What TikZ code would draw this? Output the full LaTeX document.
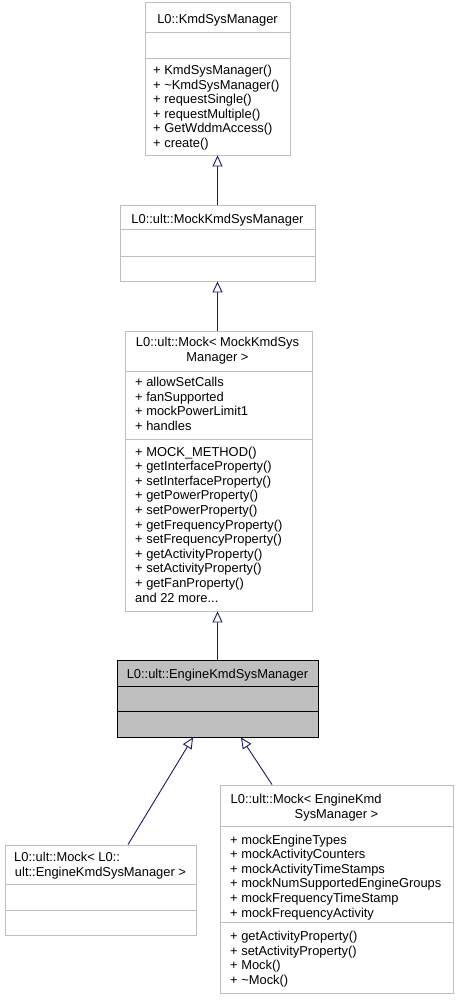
\documentclass[tikz,border=0pt]{standalone}
\usepackage{fontspec}
\setmainfont{Liberation Sans}
\usetikzlibrary{arrows.meta}
\definecolor{grey75}{HTML}{BFBFBF}
\definecolor{edgeblue}{HTML}{191970}
\tikzset{
  cls/.style={draw=grey75, fill=white, line width=0.9pt, inner sep=0pt, rectangle},
  clshl/.style={draw=black, fill=grey75, line width=0.9pt, inner sep=0pt, rectangle},
  sepline/.style={draw=grey75, line width=0.9pt},
  seplinehl/.style={draw=black, line width=0.9pt},
  txt/.style={inner sep=0pt, font=\fontsize{12.9}{14.6}\selectfont, align=left, anchor=north west, yshift=9pt, execute at begin node={\strut}},
  ttl/.style={inner sep=0pt, font=\fontsize{12.9}{14.6}\selectfont, align=center, anchor=north, yshift=9pt, execute at begin node={\strut}},
  inh/.style={draw=edgeblue, line width=0.9pt, -{Triangle[open, length=11pt, width=10pt, fill=white]}}
}
\begin{document}
\begin{tikzpicture}[x=1pt,y=-1pt]
\useasboundingbox (0,0) rectangle (459,1000);
% ---- box 1
\node[cls, minimum width=145pt, minimum height=153pt] (b1) at (217.5,78.5) {};
\draw[sepline] (b1.west |- 0,32) -- (b1.east |- 0,32);
\draw[sepline] (b1.west |- 0,58) -- (b1.east |- 0,58);
\node[ttl] (b1t) at (217.5,22) {L0::KmdSysManager};
\node[txt] (b1m) at (153,74) {+ KmdSysManager()\\+ \textasciitilde KmdSysManager()\\+ requestSingle()\\+ requestMultiple()\\+ GetWddmAccess()\\+ create()};
% ---- box 2
\node[cls, minimum width=195pt, minimum height=76pt] (b2) at (217.5,243) {};
\draw[sepline] (b2.west |- 0,229) -- (b2.east |- 0,229);
\draw[sepline] (b2.west |- 0,256) -- (b2.east |- 0,256);
\node[ttl] (b2t) at (217.5,222) {L0::ult::MockKmdSysManager};
% ---- box 3
\node[cls, minimum width=187pt, minimum height=280pt] (b3) at (218.5,471) {};
\draw[sepline] (b3.west |- 0,371) -- (b3.east |- 0,371);
\draw[sepline] (b3.west |- 0,439) -- (b3.east |- 0,439);
\node[ttl] (b3t) at (217.5,346) {L0::ult::Mock< MockKmdSys\\Manager >};
\node[txt] (b3a) at (135,386) {+ allowSetCalls\\+ fanSupported\\+ mockPowerLimit1\\+ handles};
\node[txt] (b3m) at (135,455.5) {+ MOCK\_METHOD()\\+ getInterfaceProperty()\\+ setInterfaceProperty()\\+ getPowerProperty()\\+ setPowerProperty()\\+ getFrequencyProperty()\\+ setFrequencyProperty()\\+ getActivityProperty()\\+ setActivityProperty()\\+ getFanProperty()\\and 22 more...};
% ---- box 4 (highlighted)
\node[clshl, minimum width=201pt, minimum height=77pt] (b4) at (217.5,698.5) {};
\draw[seplinehl] (b4.west |- 0,686) -- (b4.east |- 0,686);
\draw[seplinehl] (b4.west |- 0,711) -- (b4.east |- 0,711);
\node[ttl] (b4t) at (217.5,677) {L0::ult::EngineKmdSysManager};
% ---- box 5
\node[cls, minimum width=191pt, minimum height=90pt] (b5) at (100.5,890) {};
\draw[sepline] (b5.west |- 0,884) -- (b5.east |- 0,884);
\draw[sepline] (b5.west |- 0,910) -- (b5.east |- 0,910);
\node[txt] (b5t1) at (14,860) {L0::ult::Mock< L0::};
\node[ttl] (b5t2) at (100.5,874.6) {ult::EngineKmdSysManager >};
% ---- box 6
\node[cls, minimum width=233pt, minimum height=208pt] (b6) at (336.5,889) {};
\draw[sepline] (b6.west |- 0,826) -- (b6.east |- 0,826);
\draw[sepline] (b6.west |- 0,922) -- (b6.east |- 0,922);
\node[txt] (b6t1) at (230.5,802) {L0::ult::Mock< EngineKmd};
\node[ttl] (b6t2) at (336.5,816.6) {SysManager >};
\node[txt] (b6a) at (230,843.5) {+ mockEngineTypes\\+ mockActivityCounters\\+ mockActivityTimeStamps\\+ mockNumSupportedEngineGroups\\+ mockFrequencyTimeStamp\\+ mockFrequencyActivity};
\node[txt] (b6m) at (230,940) {+ getActivityProperty()\\+ setActivityProperty()\\+ Mock()\\+ \textasciitilde Mock()};
% ---- edges
\draw[inh] (b2.north) -- (b1.south);
\draw[inh] ([xshift=-1pt]b3.north) -- (b2.south);
\draw[inh] (b4.north) -- ([xshift=-1pt]b3.south);
\draw[inh] ([xshift=27.5pt]b5.north) -- ([xshift=-24.5pt]b4.south);
\draw[inh] ([xshift=-64.5pt]b6.north) -- ([xshift=23.5pt]b4.south);
\end{tikzpicture}
\end{document}
